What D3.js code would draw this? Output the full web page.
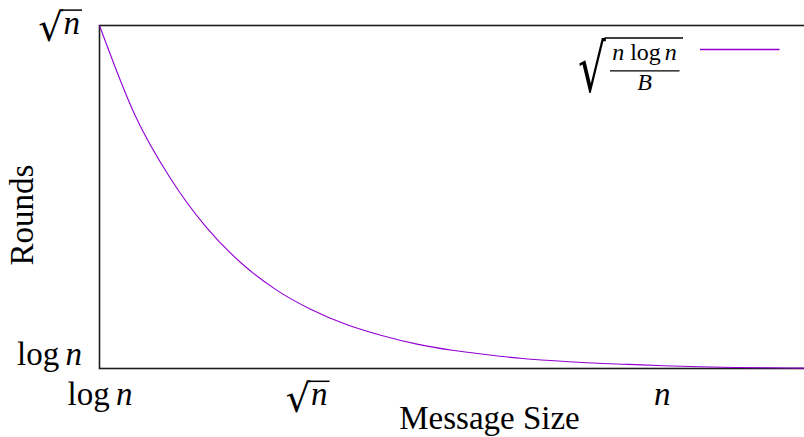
<!DOCTYPE html>
<html>
<head>
<meta charset="utf-8">
<script src="https://cdn.jsdelivr.net/npm/d3@7"></script>
<style>
  html, body { margin: 0; padding: 0; background: #fff; overflow: hidden; }
  svg { display: block; }
</style>
</head>
<body>
<svg id="chart" width="804" height="437" font-family="'Liberation Serif', 'Times New Roman', serif"></svg>
<script>
// Message size, as a position 0..100 along the horizontal range
const messageSize = [0, 5, 10, 15, 20, 25, 30, 35, 40, 45, 50, 55, 60, 65, 70, 75, 80, 85, 90, 95, 100];
// Rounds, 0 = log n, 100 = sqrt(n)
const rounds = [100, 74.0, 55.6, 41.5, 30.9, 23.0, 17.2, 12.8, 9.6, 7.1, 5.3, 4.0, 2.9, 2.2, 1.6, 1.2, 0.8, 0.5, 0.3, 0.2, 0.1];

const xTickValues = [0, 29.3, 79.7];
const xTickLabels = ["log n", "√n", "n"];
const yTickValues = [0, 100];
const yTickLabels = ["log n", "√n"];

const xTitle = "Message Size";
const yTitle = "Rounds";
const legendNumerator = "n log n";
const legendDenominator = "B";

const lineColor = "#9400d3";
const fontSize = 33;
const radicalFont = "DejaVu Serif";
// Ink box of the DejaVu radical glyph, in em units
const R = { asc: 0.82, desc: 0.03, right: 0.64, advance: 0.637 };
const italicN = 0.5;   // advance of italic n, em

const margin = { left: 99.5, top: 25.5, right: 805, bottom: 368.5 };

const svg = d3.select("#chart");

const x = d3.scaleLinear().domain([0, 100]).range([margin.left, margin.right]);
const y = d3.scaleLinear().domain([0, 100]).range([margin.bottom, margin.top]);

// Plain label: "log" upright, single letters n / B italic
function writePlain(textSel, str) {
  textSel.text(null);
  str.split(" ").forEach((p, pi, arr) => {
    if (p === "n" || p === "B") {
      textSel.append("tspan").attr("font-style", "italic").attr("dx", pi > 0 ? -2 : 0).text(p);
    } else {
      textSel.append("tspan").text(p);
    }
    if (pi < arr.length - 1) textSel.append("tspan").text(" ");
  });
}

// Radical label "√n": tall radical glyph, italic radicand, and a vinculum.
// anchor: "middle" centres the label on offset, "end" ends it there (group coordinates).
function writeRadical(textSel, parent, str, baseline, anchor, offset) {
  const radHeight = 33, radBelow = 8.5;
  const fsR = radHeight / (R.asc + R.desc);
  const shift = radBelow - R.desc * fsR;
  const width = R.advance * fsR + 0.5 + italicN * fontSize;
  const start = anchor === "middle" ? offset - width / 2 : offset - width;
  textSel.text(null)
    .attr("text-anchor", "start").attr("x", start).attr("y", baseline).attr("dy", 0);
  textSel.append("tspan")
    .attr("font-family", radicalFont).attr("font-size", fsR)
    .attr("dy", shift).text(str[0]);
  textSel.append("tspan")
    .attr("font-style", "italic").attr("dx", 0.5).attr("dy", -shift).text(str.slice(1));
  const topY = baseline + shift - R.asc * fsR + 0.8;
  parent.append("line")
    .attr("x1", start + R.right * fsR - 1.5).attr("x2", start + width + 2)
    .attr("y1", topY).attr("y2", topY)
    .attr("stroke", "#000").attr("stroke-width", 1.5);
}

// Plot frame
svg.append("rect")
  .attr("x", margin.left).attr("y", margin.top)
  .attr("width", 820 - margin.left).attr("height", margin.bottom - margin.top)
  .attr("fill", "none").attr("stroke", "#1c1c1c").attr("stroke-width", 1.6);

// X axis
const xLabelBase = 36.5;
const xAxis = svg.append("g")
  .attr("transform", `translate(0,${margin.bottom})`)
  .call(d3.axisBottom(x).tickValues(xTickValues).tickSize(0).tickFormat((d, i) => xTickLabels[i]));
xAxis.select(".domain").remove();
xAxis.attr("font-family", null).attr("font-size", fontSize);
xAxis.selectAll(".tick").each(function (d, i) {
  const g = d3.select(this);
  const t = g.select("text").attr("fill", "#000");
  const label = xTickLabels[i];
  if (label.startsWith("√")) {
    writeRadical(t, g, label, xLabelBase, "middle", 0);
  } else {
    t.attr("y", xLabelBase).attr("dy", 0);
    writePlain(t, label);
  }
});

// Y axis
const yAxis = svg.append("g")
  .attr("transform", `translate(${margin.left},0)`)
  .call(d3.axisLeft(y).tickValues(yTickValues).tickSize(0).tickFormat((d, i) => yTickLabels[i]));
yAxis.select(".domain").remove();
yAxis.attr("font-family", null).attr("font-size", fontSize);
yAxis.selectAll(".tick").each(function (d, i) {
  const g = d3.select(this);
  const t = g.select("text").attr("fill", "#000");
  const label = yTickLabels[i];
  if (label.startsWith("√")) {
    writeRadical(t, g, label, 7.8, "end", -19.5);
  } else {
    t.attr("x", -17.5).attr("y", -4.5).attr("dy", 0);
    writePlain(t, label);
  }
});

// Axis titles
svg.append("text")
  .attr("x", 489.5).attr("y", 428.5)
  .attr("text-anchor", "middle").attr("font-size", fontSize)
  .text(xTitle);

svg.append("text")
  .attr("transform", `translate(33,215) rotate(-90)`)
  .attr("text-anchor", "middle").attr("font-size", fontSize)
  .text(yTitle);

// Curve
const line = d3.line()
  .x((d, i) => x(messageSize[i]))
  .y(d => y(d))
  .curve(d3.curveMonotoneX);

svg.append("path")
  .datum(rounds)
  .attr("fill", "none")
  .attr("stroke", lineColor)
  .attr("stroke-width", 1.1)
  .attr("d", line);

// Legend: sqrt( n log n / B ) followed by a line sample
const legend = svg.append("g");
const fracCx = 644.5;
legend.append("text")
  .attr("x", fracCx).attr("y", 59.5)
  .attr("text-anchor", "middle").attr("font-size", 24)
  .each(function () { writePlain(d3.select(this), legendNumerator); });
legend.append("line")
  .attr("x1", 610).attr("x2", 679.5).attr("y1", 70.8).attr("y2", 70.8)
  .attr("stroke", "#000").attr("stroke-width", 1.2);
legend.append("text")
  .attr("x", fracCx).attr("y", 90)
  .attr("text-anchor", "middle").attr("font-size", 24)
  .each(function () { writePlain(d3.select(this), legendDenominator); });

// Big radical sized to span the whole fraction, narrowed horizontally
{
  const top = 37.2, bottom = 93.5, left = 578, inkWidth = 28;
  const fsR = (bottom - top) / (R.asc + R.desc);
  const sx = inkWidth / (R.right * fsR);
  const base = bottom - R.desc * fsR;
  legend.append("text")
    .attr("font-family", radicalFont).attr("font-size", fsR)
    .attr("transform", `translate(${left},${base}) scale(${sx},1)`)
    .text("√");
  legend.append("line")
    .attr("x1", left + inkWidth - 1.5).attr("x2", 683)
    .attr("y1", top + 0.8).attr("y2", top + 0.8)
    .attr("stroke", "#000").attr("stroke-width", 1.5);
}

legend.append("line")
  .attr("x1", 700).attr("x2", 779.5).attr("y1", 49.5).attr("y2", 49.5)
  .attr("stroke", lineColor).attr("stroke-width", 1.3);
</script>
</body>
</html>
